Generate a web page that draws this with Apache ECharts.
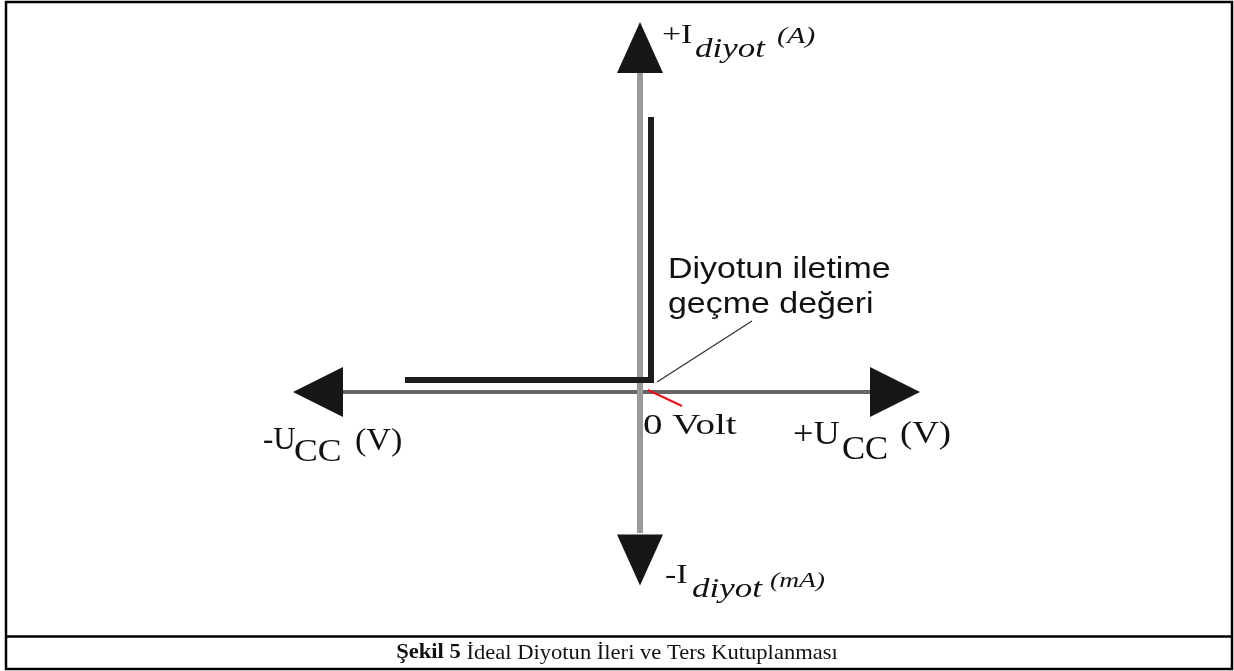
<!DOCTYPE html>
<html>
<head>
<meta charset="utf-8">
<script src="https://cdn.jsdelivr.net/npm/echarts@6/dist/echarts.min.js"></script>
<style>
  html, body { margin: 0; padding: 0; background: #fff; }
  #chart { width: 1234px; height: 671px; }
</style>
</head>
<body>
<div id="chart"></div>
<script>
// koordinat: 1 birim ~ 100px, orijin eksenlerin kesişimi
const axisH = [[-2.97, 0], [2.30, 0]];
const axisV = [[0, 3.19], [0, -1.41]];
// ok uçları: [x, y, dönüş]
const arrowsV = [[0, 3.445, 0], [0, -1.68, 180]];
const arrowsH = [[-3.22, 0, 90], [2.55, 0, -90]];
// ideal diyot karakteristiği
const diodeCurve = [[-2.35, 0.12], [0.11, 0.12], [0.11, 2.75]];
const leaderLine = [[0.17, 0.10], [1.12, 0.71]];
const zeroLine = [[0.08, 0.02], [0.42, -0.14]];

const serif = '"Liberation Serif", "Times New Roman", serif';
const sans = '"Liberation Sans", Arial, sans-serif';

function txt(text, x, y, size, opts) {
  opts = opts || {};
  return {
    type: 'text', x: x, y: y, scaleX: opts.sx || 1.25, z: 100,
    style: {
      text: text, fill: '#111',
      font: (opts.style || 'normal') + ' ' + size + 'px ' + (opts.family || serif),
      verticalAlign: 'middle', align: 'left'
    }
  };
}

const chart = echarts.init(document.getElementById('chart'));
const option = {
  animation: false,
  backgroundColor: '#fff',
  grid: { left: 293, right: 314, top: 22, bottom: 84 },
  xAxis: { type: 'value', min: -3.47, max: 2.80, show: false },
  yAxis: { type: 'value', min: -1.95, max: 3.70, show: false },
  series: [
    {
      type: 'line', data: axisH, symbol: 'none', silent: true,
      lineStyle: { color: '#666', width: 4 }, z: 2
    },
    {
      type: 'line', data: axisV, symbol: 'none', silent: true,
      lineStyle: { color: '#9a9a9a', width: 6 }, z: 2
    },
    {
      type: 'scatter', data: arrowsV, symbol: 'triangle', symbolSize: [46, 51],
      symbolRotate: function (v) { return v[2]; },
      itemStyle: { color: '#161616', opacity: 1 }, z: 3
    },
    {
      type: 'scatter', data: arrowsH, symbol: 'triangle', symbolSize: [50, 50],
      symbolRotate: function (v) { return v[2]; },
      itemStyle: { color: '#161616', opacity: 1 }, z: 3
    },
    {
      type: 'line', data: diodeCurve, symbol: 'none', silent: true,
      lineStyle: { color: '#1c1c1c', width: 6, join: 'miter' }, z: 4
    },
    {
      type: 'line', data: leaderLine, symbol: 'none', silent: true,
      lineStyle: { color: '#333', width: 1.3 }, z: 4
    },
    {
      type: 'line', data: zeroLine, symbol: 'none', silent: true,
      lineStyle: { color: '#e8101a', width: 2 }, z: 5
    }
  ],
  graphic: [
    // çerçeve
    { type: 'rect', shape: { x: 6, y: 2, width: 1226, height: 667 },
      style: { fill: null, stroke: '#000', lineWidth: 2.5 }, z: 50 },
    { type: 'line', shape: { x1: 6, y1: 636.5, x2: 1232, y2: 636.5 },
      style: { stroke: '#000', lineWidth: 2.5 }, z: 50 },
    // +I diyot (A)
    txt('+I', 662, 36, 27),
    txt('diyot', 695, 50, 28, { style: 'italic' }),
    txt('(A)', 777, 37, 24, { style: 'italic' }),
    // -I diyot (mA)
    txt('-I', 665, 576, 27),
    txt('diyot', 692, 590, 28, { style: 'italic' }),
    txt('(mA)', 770, 581, 22, { style: 'italic' }),
    // -Ucc (V)
    txt('-U', 263, 441, 31, { sx: 1.0 }),
    txt('CC', 294, 453, 31, { sx: 1.15 }),
    txt('(V)', 355, 442, 31, { sx: 1.1 }),
    // +Ucc (V)
    txt('+U', 793, 435, 33, { sx: 1.1 }),
    txt('CC', 842, 450, 33, { sx: 1.05 }),
    txt('(V)', 900, 435, 32, { sx: 1.15 }),
    // 0 Volt
    txt('0 Volt', 643, 426, 30, { sx: 1.3 }),
    // açıklama
    txt('Diyotun iletime', 668, 270, 29, { family: sans, sx: 1.17 }),
    txt('geçme değeri', 668, 305, 29, { family: sans, sx: 1.17 }),
    // alt yazı
    {
      type: 'text', x: 617, y: 653, scaleX: 1.075, z: 100,
      style: {
        text: '{b|Şekil 5} İdeal Diyotun İleri ve Ters Kutuplanması',
        font: 'normal 21px ' + serif, fill: '#111',
        align: 'center', verticalAlign: 'middle',
        rich: { b: { fontWeight: 'bold', fontSize: 21, fontFamily: serif, fill: '#111' } }
      }
    }
  ]
};
chart.setOption(option);
</script>
</body>
</html>
